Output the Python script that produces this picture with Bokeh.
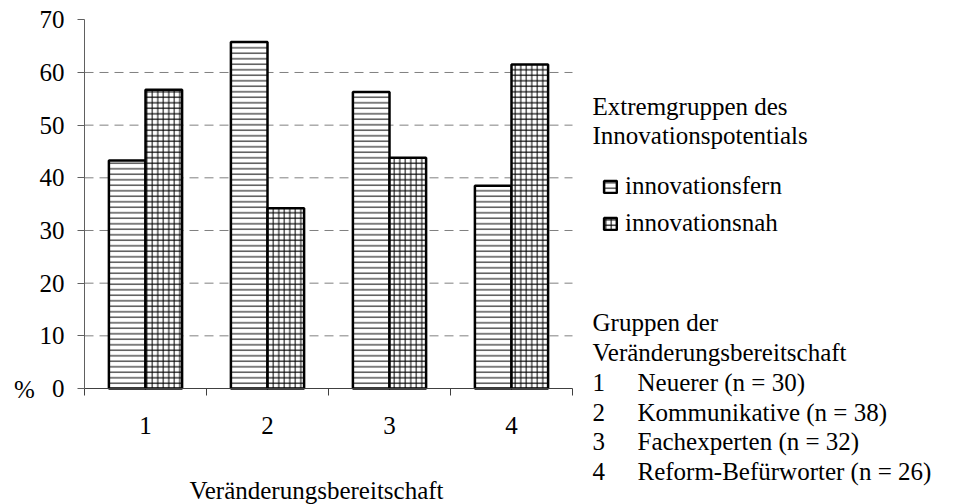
from bokeh.plotting import figure
from bokeh.models import (FixedTicker, Label, Legend, LegendItem, ColumnDataSource,
                          Range1d, LinearAxis)
from bokeh.transform import dodge
from bokeh.embed import file_html
from bokeh.resources import INLINE

# ---------------- data ----------------
categories = [1, 2, 3, 4]
tick_labels = ["1", "2", "3", "4"]
innovationsfern = [43.3, 65.8, 56.3, 38.5]
innovationsnah = [56.7, 34.2, 43.8, 61.5]
y_ticks = [0, 10, 20, 30, 40, 50, 60, 70]
grid_values = [10, 20, 30, 40, 50, 60]
series_names = ["innovationsfern", "innovationsnah"]
legend_title = ["Extremgruppen des", "Innovationspotentials"]
group_title = ["Gruppen der", "Veränderungsbereitschaft"]
group_numbers = ["1", "2", "3", "4"]
group_names = ["Neuerer (n = 30)", "Kommunikative (n = 38)",
               "Fachexperten (n = 32)", "Reform-Befürworter (n = 26)"]
x_title = "Veränderungsbereitschaft"
y_unit = "%"

# ---------------- layout (pixels) ----------------
W, H = 953, 504
PX_L, PX_R = 84, 572        # plot area left / right
PY_T, PY_B = 19.3, 388      # plot area top (70) / bottom (0)
XMIN, XMAX, YMIN, YMAX = 0.5, 4.5, 0, 70
FONT = "Liberation Serif"
FS = "25px"

sx = (PX_R - PX_L) / (XMAX - XMIN)
sy = (PY_B - PY_T) / (YMAX - YMIN)


def dx(px):
    return XMIN + (px - PX_L) / sx


def dy(py):
    return YMIN + (PY_B - py) / sy


p = figure(width=W, height=H, output_backend="svg", toolbar_location=None,
           x_range=Range1d(dx(0), dx(W)), y_range=Range1d(dy(H), dy(0)),
           min_border=0, frame_width=W, frame_height=H,
           x_axis_location=None, y_axis_location=None)
p.outline_line_color = None
p.background_fill_color = "white"
p.border_fill_color = "white"
p.grid.visible = False

# dashed horizontal grid lines, limited to the plot area
p.segment(x0=[XMIN] * len(grid_values), x1=[XMAX] * len(grid_values),
          y0=grid_values, y1=grid_values,
          line_color="#808080", line_width=1, line_dash="9 6")

src = ColumnDataSource(dict(x=categories, fern=innovationsfern, nah=innovationsnah))

r1 = p.vbar(x=dodge("x", -0.15), top="fern", width=0.3, source=src,
            fill_color="white", line_color="black", line_width=2.5,
            hatch_pattern="horizontal_line", hatch_scale=5.5, hatch_weight=1,
            hatch_color="black")
r2 = p.vbar(x=dodge("x", 0.15), top="nah", width=0.3, source=src,
            fill_color="white", line_color="black", line_width=2.5,
            hatch_pattern="cross", hatch_scale=5.5, hatch_weight=1,
            hatch_color="black")

# axes drawn at fixed positions inside the full-canvas frame
yaxis = LinearAxis(fixed_location=XMIN, bounds=(YMIN, YMAX),
                   ticker=FixedTicker(ticks=y_ticks))
yaxis.major_tick_in = 0
yaxis.major_tick_out = 7
yaxis.minor_tick_line_color = None
yaxis.axis_line_color = "#606060"
yaxis.major_tick_line_color = "#606060"
yaxis.major_label_standoff = 13

xaxis = LinearAxis(fixed_location=YMIN, bounds=(XMIN, XMAX),
                   ticker=FixedTicker(ticks=categories,
                                      minor_ticks=[0.5, 1.5, 2.5, 3.5, 4.5]))
xaxis.major_label_overrides = {c: t for c, t in zip(categories, tick_labels)}
xaxis.major_tick_in = 0
xaxis.major_tick_out = 0
xaxis.minor_tick_in = 0
xaxis.minor_tick_out = 7
xaxis.axis_line_color = "#404040"
xaxis.minor_tick_line_color = "#404040"
xaxis.major_label_standoff = 21

for ax in (xaxis, yaxis):
    ax.major_label_text_font = FONT
    ax.major_label_text_font_size = FS
    ax.major_label_text_color = "black"

p.add_layout(yaxis, "left")
p.add_layout(xaxis, "below")


def add_text(txt, px, py, align="left", baseline="middle"):
    p.add_layout(Label(x=dx(px), y=dy(py), text=txt, text_font=FONT,
                       text_font_size=FS, text_color="black",
                       text_align=align, text_baseline=baseline))


add_text(y_unit, 24, 389, align="center")
add_text(x_title, 316, 490, align="center")

for i, t in enumerate(legend_title):
    add_text(t, 592, 106 + 29 * i)
for i, t in enumerate(group_title):
    add_text(t, 592, 322 + 30 * i)
for i, (n, t) in enumerate(zip(group_numbers, group_names)):
    add_text(n, 592, 382 + 29.7 * i)
    add_text(t, 637, 382 + 29.7 * i)

legend = Legend(items=[LegendItem(label=series_names[0], renderers=[r1]),
                       LegendItem(label=series_names[1], renderers=[r2])],
                location=(602, H - 237), orientation="vertical",
                padding=0, margin=0, spacing=9, label_height=28,
                glyph_height=15, glyph_width=16, label_standoff=7,
                border_line_color=None, background_fill_alpha=0,
                label_text_font=FONT, label_text_font_size=FS,
                label_text_color="black")
p.add_layout(legend)

open("out.html", "w").write(file_html(p, INLINE))
